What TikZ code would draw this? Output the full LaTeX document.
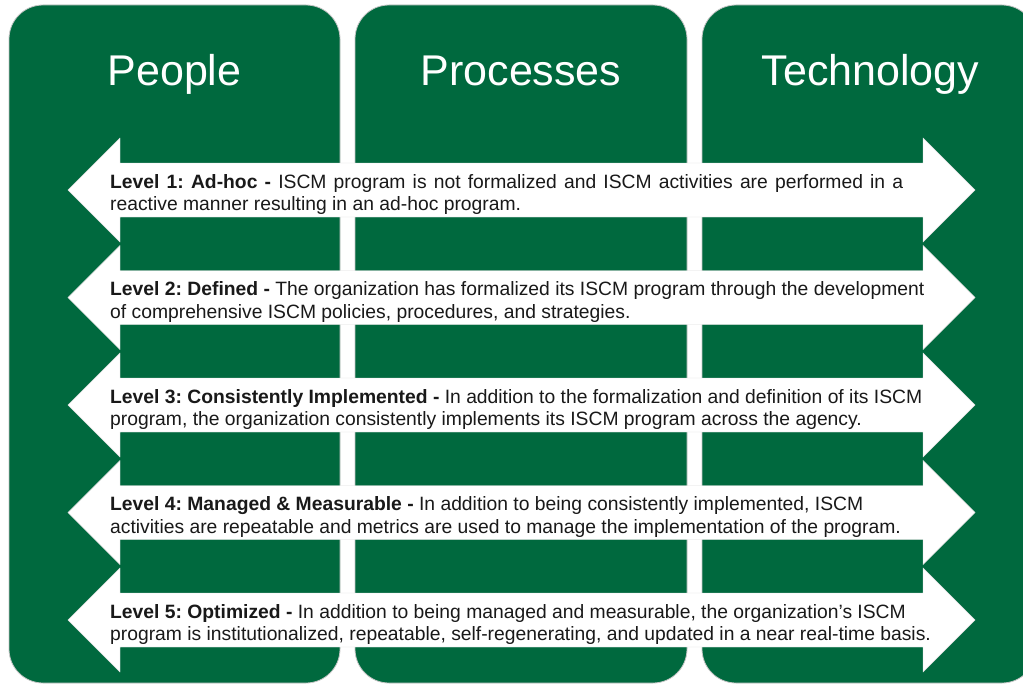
\documentclass[tikz,border=0pt]{standalone}
\usepackage{fontspec}
\setmainfont{Liberation Sans}
\frenchspacing
\definecolor{iscmgreen}{RGB}{0,105,62}
\definecolor{iscmtext}{RGB}{25,25,25}
\tikzset{
  column/.style={fill=iscmgreen, draw=gray!45, line width=0.8pt, rounded corners=34pt},
  title/.style={text=white, font=\fontsize{43}{50}\selectfont, anchor=base, inner sep=0pt},
  levelarrow/.style={fill=white, draw=gray!25, line width=0.4pt},
  leveltext/.style={text=iscmtext, font=\fontsize{19.3}{23}\selectfont, anchor=base west, inner sep=0pt}
}
\begin{document}
\begin{tikzpicture}[x=1pt,y=-1pt]
\useasboundingbox (0,0) rectangle (1023,685);
\clip (0,0) rectangle (1023,685);
\fill[white] (0,0) rectangle (1023,685);
% columns
\draw[column] (9,5) rectangle (340,683);
\draw[column] (355,5) rectangle (687,683);
\draw[column] (702,5) rectangle (1036,683);
% titles
\node[title] (people) at (174.5,85) {People};
\node[title] (processes) at (521,85) {Processes};
\node[title] (technology) at (870.5,85) {Technology};
% arrows
\foreach \c in {190,297.5,405,512.5,620}{
  \draw[levelarrow] (68,\c) -- (120,\c-52) -- (120,\c-27) -- (923,\c-27) -- (923,\c-52)
    -- (975,\c) -- (923,\c+52) -- (923,\c+27) -- (120,\c+27) -- (120,\c+52) -- cycle;
}
% texts
\node[leveltext] (l1a) at (110,188) {\makebox[793pt][s]{\textbf{Level 1: Ad-hoc -} ISCM program is not formalized and ISCM activities are performed in a}};
\node[leveltext] (l1b) at (110,210.5) {reactive manner resulting in an ad-hoc program.};
\node[leveltext] (l2a) at (110,295.5) {\textbf{Level 2: Defined -} The organization has formalized its ISCM program through the development};
\node[leveltext] (l2b) at (110,318) {of comprehensive ISCM policies, procedures, and strategies.};
\node[leveltext] (l3a) at (110,403) {\textbf{Level 3: Consistently Implemented -} In addition to the formalization and definition of its ISCM};
\node[leveltext] (l3b) at (110,425.5) {program, the organization consistently implements its ISCM program across the agency.};
\node[leveltext] (l4a) at (110,510.5) {\textbf{Level 4: Managed \& Measurable -} In addition to being consistently implemented, ISCM};
\node[leveltext] (l4b) at (110,533) {activities are repeatable and metrics are used to manage the implementation of the program.};
\node[leveltext] (l5a) at (110,618) {\textbf{Level 5: Optimized -} In addition to being managed and measurable, the organization’s ISCM};
\node[leveltext] (l5b) at (110,640.5) {program is institutionalized, repeatable, self-regenerating, and updated in a near real-time basis.};
\end{tikzpicture}
\end{document}
